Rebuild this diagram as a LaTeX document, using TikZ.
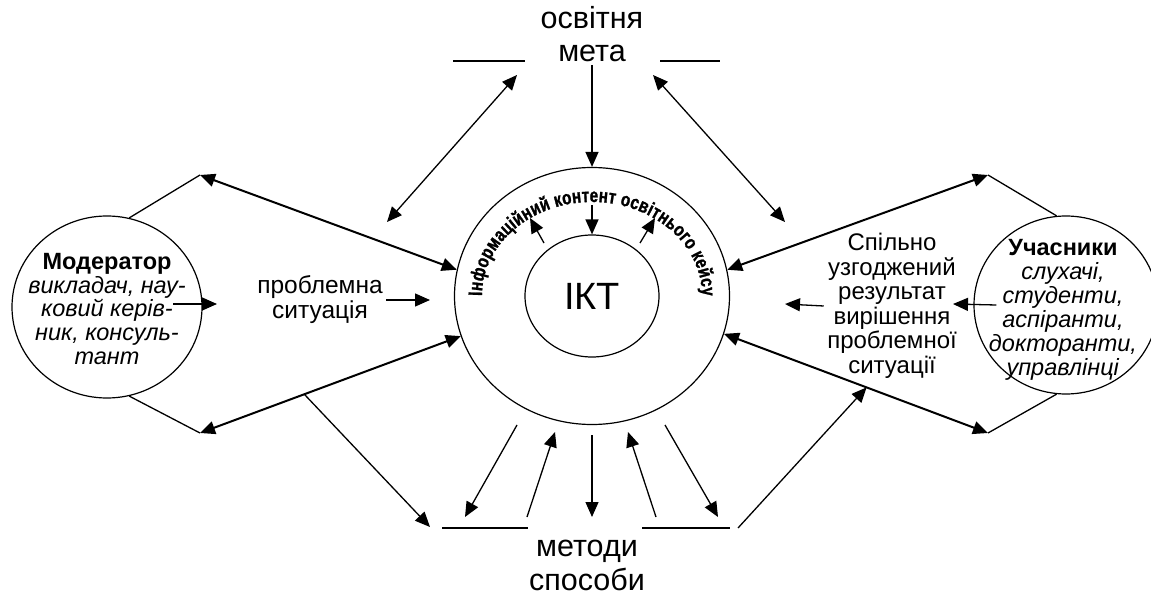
\documentclass[tikz,border=0pt]{standalone}
\usepackage{fontspec}
\setmainfont{Liberation Sans}
\newfontfamily\archfont[FakeStretch=0.78, FakeBold=1.2]{Liberation Sans}
\usetikzlibrary{arrows.meta,positioning,shapes.geometric,decorations.text}

\begin{document}
\begin{tikzpicture}[x=1pt, y=-1pt,
    >={Triangle[length=15pt,width=13pt]},
    thinline/.style={line width=1.3pt},
    dbl/.style={line width=2pt, <->},
    oval/.style={ellipse, draw, line width=1.2pt, inner sep=0pt},
    lbl/.style={align=center, font=\fontsize{24}{24.5}\selectfont},
    big/.style={align=center, font=\fontsize{30.5}{32.5}\selectfont}]
  % \draw[help lines] (0,0) grid[step=50] (1151,596);
  \useasboundingbox (0,0) rectangle (1151,596);

  \node [oval, minimum width=275pt, minimum height=257pt] (content) at (592,296) {};
  \node [oval, minimum width=134pt, minimum height=122pt, font=\fontsize{38}{38}\selectfont] (ikt) at (592,296) {ІКТ};
  \node [oval, minimum width=190pt, minimum height=182pt] (moder) at (107,307) {};
  \node [oval, minimum width=184pt, minimum height=178pt] (part) at (1066,305) {};

  \node [lbl, font=\fontsize{23.5}{23.8}\selectfont] (modertext) at (107,309) {\textbf{Модератор}\\ \textit{викладач, нау-}\\ \textit{ковий керів-}\\ \textit{ник, консуль-}\\ \textit{тант}};
  \node [lbl, font=\fontsize{23.5}{24}\selectfont] (parttext) at (1063,310) {\textbf{Учасники}\\ \textit{слухачі,}\\ \textit{студенти,}\\ \textit{аспіранти,}\\ \textit{докторанти,}\\ \textit{управлінці}};
  \node [big] (goal) at (592,34) {освітня\\мета};
  \node [big, font=\fontsize{30.5}{34}\selectfont] (methods) at (587,565) {методи\\способи};
  \node [lbl, font=\fontsize{24.5}{25}\selectfont] (problem) at (320,300) {проблемна\\ситуація};
  \node [lbl] (result) at (892,306) {Спільно\\узгоджений\\результат\\вирішення\\проблемної\\ситуації};

  \path [decorate, decoration={text along path, text align={fit to path},
      text={|\archfont\bfseries\fontsize{19.5}{19.5}\selectfont|Інформаційний контент освітнього кейсу}}]
    (482,296) arc [start angle=180, end angle=0, x radius=110pt, y radius=94pt];

  % side connections
  \coordinate (lt) at (200,175);
  \coordinate (lb) at (200,433);
  \coordinate (rt) at (988,175);
  \coordinate (rb) at (988,433);
  \draw [thinline] (moder.76) -- (lt);
  \draw [thinline] (moder.284) -- (lb);
  \draw [thinline] (part.96) -- (rt);
  \draw [thinline] (part.264) -- (rb);
  \draw [dbl] (lt) -- (content.169);
  \draw [dbl] (lb) -- (content.197);
  \draw [dbl] (rt) -- (content.11);
  \draw [dbl] (rb) -- (content.344);

  \path (lb) -- (content.197) coordinate[pos=0.4] (lbm);
  \path (rb) -- (content.344) coordinate[pos=0.46] (rbm);
  \coordinate (mdl) at (430,527);
  \coordinate (mdr) at (738,528);
  \draw [thinline, ->] (lbm) -- (mdl);
  \draw [thinline, ->] (mdr) -- (rbm);

  % goal
  \coordinate (gl1) at (453,61);
  \coordinate (gl2) at (525,61);
  \coordinate (gr1) at (660,61);
  \coordinate (gr2) at (720,61);
  \draw [thinline] (gl1) -- (gl2);
  \draw [thinline] (gr1) -- (gr2);
  \draw [thinline, ->] (goal.south) -- (content.north);
  \coordinate (gla) at (517,75);
  \coordinate (glb) at (387,222);
  \coordinate (gra) at (653,75);
  \coordinate (grb) at (785,222);
  \draw [thinline, <->] (gla) -- (glb);
  \draw [thinline, <->] (gra) -- (grb);

  % methods
  \coordinate (ml1) at (442,528);
  \coordinate (ml2) at (528,528);
  \coordinate (mr1) at (642,528);
  \coordinate (mr2) at (730,528);
  \draw [thinline] (ml1) -- (ml2);
  \draw [thinline] (mr1) -- (mr2);
  \coordinate (b1s) at (517,425);
  \coordinate (b1e) at (465,517);
  \coordinate (b2s) at (527,517);
  \coordinate (b2e) at (555,432);
  \coordinate (b3s) at (592,435);
  \coordinate (b3e) at (592,517);
  \coordinate (b4s) at (656,517);
  \coordinate (b4e) at (628,432);
  \coordinate (b5s) at (665,425);
  \coordinate (b5e) at (718,517);
  \draw [thinline, ->] (b1s) -- (b1e);
  \draw [thinline, ->] (b2s) -- (b2e);
  \draw [thinline, ->] (b3s) -- (b3e);
  \draw [thinline, ->] (b4s) -- (b4e);
  \draw [thinline, ->] (b5s) -- (b5e);

  % short arrows
  \coordinate (pa) at (430,300);
  \draw [thinline, ->] (problem.east) -- (pa);
  \coordinate (ma) at (173,304);
  \coordinate (mb) at (217,304);
  \draw [thinline, ->] (ma) -- (mb);
  \coordinate (pb) at (953,304);
  \draw [thinline, ->] ([xshift=23pt]part.west) -- (pb);
  \coordinate (rr) at (785,304);
  \draw [thinline, ->] (result.west) -- (rr);

  % inner arrows
  \coordinate (ia) at (592,205);
  \coordinate (ib) at (544,243);
  \coordinate (ibe) at (530,218);
  \coordinate (ic) at (640,243);
  \coordinate (ice) at (655,218);
  \draw [thinline, ->] (ia) -- (ikt.north);
  \draw [thinline, ->] (ib) -- (ibe);
  \draw [thinline, ->] (ic) -- (ice);

\end{tikzpicture}
\end{document}
